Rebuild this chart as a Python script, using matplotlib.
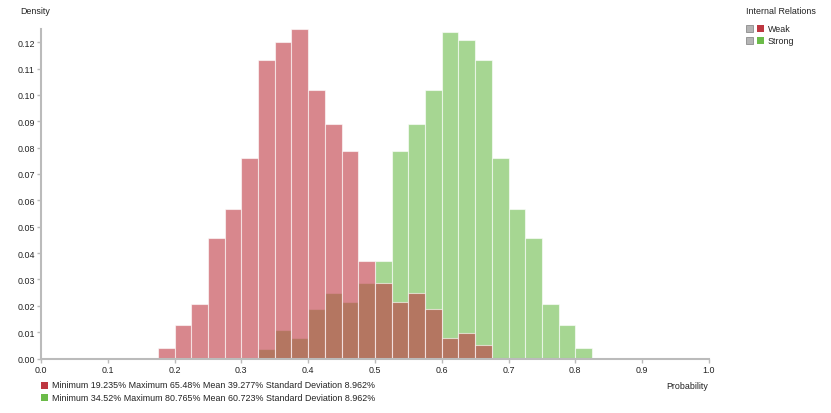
import matplotlib
matplotlib.use('Agg')
import matplotlib.pyplot as plt
from matplotlib.patches import Rectangle
import numpy as np

# bin left edges and densities
bin_width = 0.025
weak_bins = np.arange(0.175, 0.651, bin_width)
weak_density = [0.0038, 0.0128, 0.0208, 0.0459, 0.0569, 0.0760, 0.1132,
                0.1200, 0.1251, 0.1020, 0.0889, 0.0788, 0.0368, 0.0287,
                0.0215, 0.0247, 0.0187, 0.0078, 0.0098, 0.0051]
strong_bins = np.arange(0.325, 0.801, bin_width)
strong_density = [0.0035, 0.0108, 0.0078, 0.0187, 0.0247, 0.0215, 0.0287,
                  0.0368, 0.0788, 0.0889, 0.1020, 0.1240, 0.1210, 0.1132,
                  0.0760, 0.0569, 0.0459, 0.0208, 0.0128, 0.0038]

series_names = ['Weak', 'Strong']
series_colors = ['#be3741', '#6bbb49']
stats_text = [
    'Minimum 19.235% Maximum 65.48% Mean 39.277% Standard Deviation 8.962%',
    'Minimum 34.52% Maximum 80.765% Mean 60.723% Standard Deviation 8.962%',
]
x_ticks = np.arange(0, 1.01, 0.1)
y_ticks = np.arange(0, 0.121, 0.01)

plt.rcParams['font.family'] = ['Liberation Sans', 'DejaVu Sans']
text_color = '#222222'
axis_color = '#bbbbbb'
fs = 6.4

fig = plt.figure(figsize=(8.31, 4.14), dpi=100)
ax = fig.add_axes([0.0493, 0.1316, 0.8038, 0.796])

# green first, red on top, both translucent -> brown overlap
ax.bar(strong_bins, strong_density, width=bin_width, align='edge',
       color=series_colors[1], alpha=0.6, edgecolor='white', linewidth=0.8)
ax.bar(weak_bins, weak_density, width=bin_width, align='edge',
       color=series_colors[0], alpha=0.6, edgecolor='white', linewidth=0.8)

ax.set_xlim(0, 1.0)
ax.set_ylim(0, 0.125)
ax.set_xticks(x_ticks)
ax.set_xticklabels(['%.1f' % t for t in x_ticks])
ax.set_yticks(y_ticks)
ax.set_yticklabels(['%.2f' % t for t in y_ticks])

for side in ['top', 'right']:
    ax.spines[side].set_visible(False)
for side in ['left', 'bottom']:
    ax.spines[side].set_color(axis_color)
    ax.spines[side].set_linewidth(1.5)
ax.tick_params(axis='both', colors=axis_color, labelcolor=text_color,
               labelsize=fs, length=3, width=1, pad=1.5)

fig.text(20 / 831, 1 - 12 / 414, 'Density', fontsize=fs,
         color=text_color, va='center', ha='left')
fig.text(687 / 831, 1 - 387 / 414, 'Probability', fontsize=fs,
         color=text_color, va='center', ha='center')

# top-right legend
fig.text(746 / 831, 1 - 12 / 414, 'Internal Relations', fontsize=fs,
         color=text_color, va='center', ha='left')
for i, name in enumerate(series_names):
    yc = 29 + i * 12
    fig.patches.append(Rectangle((746 / 831, 1 - (yc + 4) / 414),
                                 7 / 831, 7 / 414, transform=fig.transFigure,
                                 facecolor='#b4b4b4', edgecolor='#8c8c8c',
                                 linewidth=0.6))
    fig.patches.append(Rectangle((757 / 831, 1 - (yc + 4) / 414),
                                 7 / 831, 7 / 414, transform=fig.transFigure,
                                 facecolor=series_colors[i], edgecolor='none'))
    fig.text(768 / 831, 1 - yc / 414, name, fontsize=fs,
             color=text_color, va='center', ha='left')

# bottom stats legend
for i, txt in enumerate(stats_text):
    yc = 386 + i * 12.5
    fig.patches.append(Rectangle((41 / 831, 1 - (yc + 3.5) / 414),
                                 7 / 831, 7 / 414, transform=fig.transFigure,
                                 facecolor=series_colors[i], edgecolor='none'))
    fig.text(52 / 831, 1 - yc / 414, txt, fontsize=fs,
             color=text_color, va='center', ha='left')

fig.savefig('out.png', dpi=100)
